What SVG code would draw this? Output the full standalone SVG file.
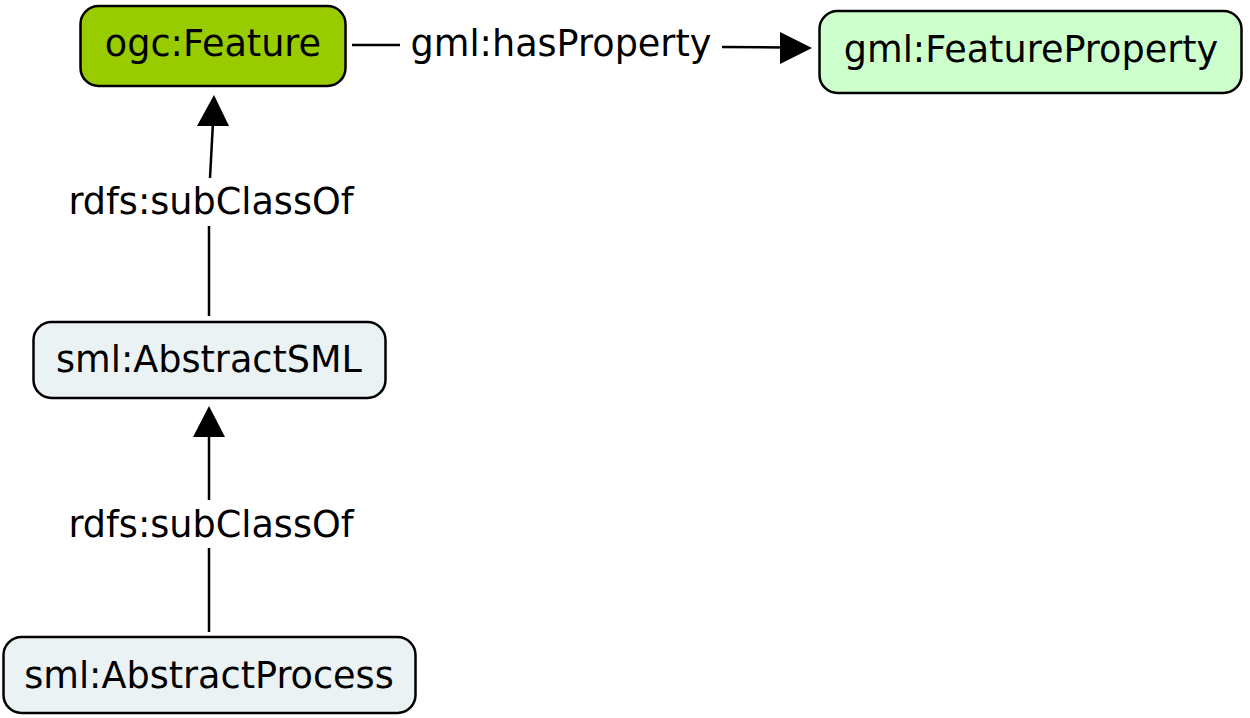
<svg xmlns="http://www.w3.org/2000/svg" width="1250" height="718" viewBox="0 0 1250 718">
<defs>
<style>
.node rect{stroke:#000;stroke-width:2.5}
text{font-family:"DejaVu Sans","Verdana",sans-serif;font-size:36.6px;fill:#000}
.lbl{text-anchor:middle}
.edge line{stroke:#000;stroke-width:2.5}
.edge polygon{fill:#000}
</style>
</defs>
<rect width="1250" height="718" fill="#fff"/>
<g class="edge" id="connectors">
<line x1="352" y1="45" x2="400" y2="45"/>
<text class="lbl" x="561" y="56">gml:hasProperty</text>
<line x1="722" y1="47" x2="785" y2="47.5"/>
<polygon points="812,48 780,32 780,64"/>
<line x1="209" y1="316" x2="209" y2="226"/>
<text class="lbl" x="211" y="214">rdfs:subClassOf</text>
<line x1="210" y1="178" x2="213" y2="122"/>
<polygon points="214,95 197,126 229,126"/>
<line x1="209" y1="632" x2="209" y2="548"/>
<text class="lbl" x="211" y="537">rdfs:subClassOf</text>
<line x1="209" y1="500" x2="209" y2="434"/>
<polygon points="209,406 193,437 225,437"/>
</g>
<g class="node" id="ogc-Feature">
<rect x="80.5" y="6" width="265" height="80" rx="18" fill="#99cc00"/>
<text class="lbl" x="213" y="56">ogc:Feature</text>
</g>
<g class="node" id="gml-FeatureProperty">
<rect x="819.5" y="11" width="422" height="82" rx="18" fill="#ccffcc"/>
<text class="lbl" x="1031" y="62">gml:FeatureProperty</text>
</g>
<g class="node" id="sml-AbstractSML">
<rect x="33.5" y="322" width="352" height="76" rx="18" fill="#ebf2f4"/>
<text class="lbl" x="209" y="372">sml:AbstractSML</text>
</g>
<g class="node" id="sml-AbstractProcess">
<rect x="3.5" y="637" width="412" height="76" rx="18" fill="#ebf2f4"/>
<text class="lbl" x="209" y="688">sml:AbstractProcess</text>
</g>
</svg>
